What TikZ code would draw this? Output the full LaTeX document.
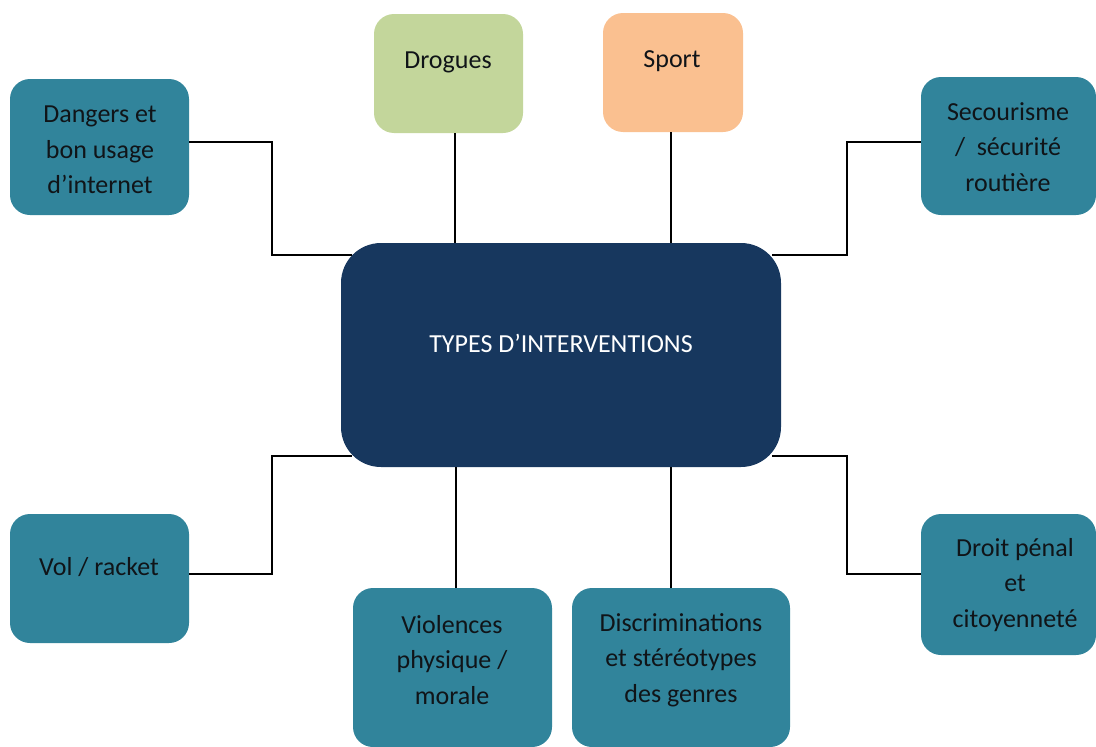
\documentclass[tikz,border=0pt]{standalone}
\usepackage{fontspec}
\setmainfont{Carlito}
\definecolor{teal}{HTML}{31849B}
\definecolor{navy}{HTML}{17375E}
\definecolor{lime}{HTML}{C3D69B}
\definecolor{peach}{HTML}{FAC090}
\definecolor{ink}{HTML}{101418}
\tikzset{
  box/.style={fill=teal, rounded corners=20pt, inner sep=0pt, draw=none},
  hub/.style={fill=navy, rounded corners=40pt, inner sep=0pt, draw=none},
  txt/.style={align=center, inner sep=0pt, text=ink, font=\fontsize{26}{35.5}\selectfont},
  wire/.style={draw=black, line width=1.1pt}
}
\begin{document}
\begin{tikzpicture}[x=1pt,y=-1pt]
\useasboundingbox (0,0) rectangle (1096,747);
% boxes
\path[hub] (341,243) rectangle (781,467);
\path[box] (10,79) rectangle (189,215);
\path[box, fill=lime] (374,14) rectangle (523,133);
\path[box, fill=peach] (603,13) rectangle (743,132);
\path[box] (921,77) rectangle (1096,215);
\path[box] (10,514) rectangle (189,643);
\path[box] (353,588) rectangle (552,747);
\path[box] (572,588) rectangle (790,747);
\path[box] (921,514) rectangle (1096,655);
% connector end points on the boxes
\coordinate (dangR) at (189,142);
\coordinate (hubTL) at (352,255);
\coordinate (drogB) at (455,133);
\coordinate (hubTa) at (455,243);
\coordinate (sporB) at (671,132);
\coordinate (hubTb) at (671,243);
\coordinate (secoL) at (921,142);
\coordinate (hubTR) at (772,255);
\coordinate (volR) at (189,574);
\coordinate (hubBL) at (352,456);
\coordinate (violT) at (456,588);
\coordinate (hubBa) at (456,467);
\coordinate (discT) at (671,588);
\coordinate (hubBb) at (671,467);
\coordinate (droiL) at (921,574);
\coordinate (hubBR) at (772,456);
% connectors
\draw[wire] (dangR) -- (272,142) |- (hubTL);
\draw[wire] (drogB) -- (hubTa);
\draw[wire] (sporB) -- (hubTb);
\draw[wire] (secoL) -- (847,142) |- (hubTR);
\draw[wire] (volR) -- (272,574) |- (hubBL);
\draw[wire] (violT) -- (hubBa);
\draw[wire] (discT) -- (hubBb);
\draw[wire] (droiL) -- (847,574) |- (hubBR);
% labels
\node[txt, text=white] (tHub) at (561,343) {TYPES D’INTERVENTIONS};
\node[txt] (tDang) at (100,150) {Dangers et\\bon usage\\d’internet};
\node[txt] (tDrog) at (448,62) {Drogues};
\node[txt] (tSpor) at (672,61) {Sport};
\node[txt] (tSeco) at (1008,147) {Secourisme\\/\ \ sécurité\\routière};
\node[txt] (tVol) at (99,567) {Vol / racket};
\node[txt] (tViol) at (452,660) {Violences\\physique /\\morale};
\node[txt] (tDisc) at (681,660) {Discriminations\\et stéréotypes\\des genres};
\node[txt] (tDroi) at (1015,585) {Droit pénal\\et\\citoyenneté};
\end{tikzpicture}
\end{document}
